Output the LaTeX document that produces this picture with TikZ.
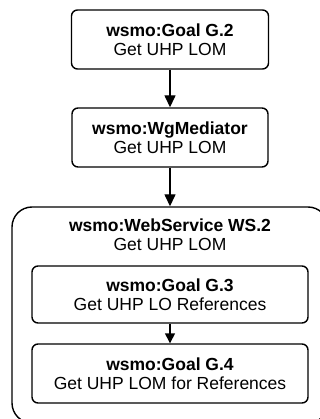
\documentclass[tikz,border=0pt]{standalone}
\usepackage{fontspec}
\setmainfont{Liberation Sans}
\usetikzlibrary{arrows.meta}
\begin{document}
\begin{tikzpicture}[x=1pt,y=-1pt,
  box/.style={draw,line width=1.4pt,rounded corners=6pt,align=center,inner sep=0pt,
    font=\fontsize{17.5}{19}\selectfont},
  outerbox/.style={draw,line width=1.4pt,rounded corners=20pt,inner sep=0pt},
  lbl/.style={align=center,inner sep=0pt,font=\fontsize{17.5}{19}\selectfont},
  conn/.style={line width=1.4pt,-{Triangle[width=11pt,length=12pt]}}]
\clip (0,0) rectangle (320,419);
\node[box,minimum width=197pt,minimum height=59pt] (g2) at (170,39.5)
  {\textbf{wsmo:Goal G.2}\\Get UHP LOM};
\node[box,minimum width=196pt,minimum height=59pt] (med) at (170,137.5)
  {\textbf{wsmo:WgMediator}\\Get UHP LOM};
\node[outerbox,minimum width=316pt,minimum height=216pt] (ws) at (170,315) {};
\node[lbl] (wst) at (170,235) {\textbf{wsmo:WebService WS.2}\\Get UHP LOM};
\node[box,minimum width=276pt,minimum height=57pt] (g3) at (170,294.5)
  {\textbf{wsmo:Goal G.3}\\Get UHP LO References};
\node[box,minimum width=276pt,minimum height=59pt] (g4) at (170,373.5)
  {\textbf{wsmo:Goal G.4}\\Get UHP LOM for References};
\draw[conn] (g2) -- (med);
\draw[conn] (med) -- (ws);
\draw[conn,-{Triangle[width=10pt,length=10pt]}] (g3) -- (g4);
\end{tikzpicture}
\end{document}
